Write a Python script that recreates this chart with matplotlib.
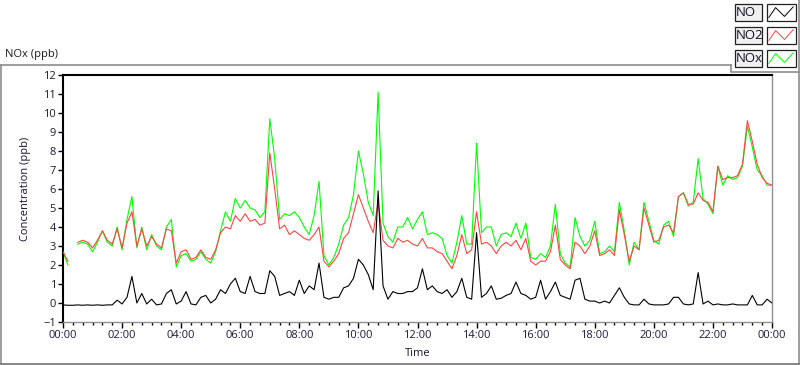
import matplotlib
matplotlib.use('Agg')
import matplotlib.pyplot as plt
import numpy as np
from matplotlib.patches import Rectangle

plt.rcParams['font.family'] = ['Open Sans', 'DejaVu Sans']

# time stamps, one reading every 10 minutes (00:00 .. 24:00)
time_min = np.arange(0, 1441, 10)
hours = time_min / 60.0

nan = np.nan

no2 = [2.7, 2.2, nan, 3.2, 3.3, 3.2, 2.9, 3.3, 3.8, 3.3, 3.1, 3.9,
       2.9, 4.2, 4.8, 3.0, 3.9, 3.0, 3.5, 3.1, 2.9, 3.9, 3.8, 2.1,
       2.7, 2.8, 2.3, 2.4, 2.8, 2.4, 2.3, 2.8, 3.7, 4.0, 3.9, 4.6,
       4.3, 4.7, 4.3, 4.4, 4.1, 4.2, 7.9, 6.0, 3.9, 4.1, 3.6, 3.8,
       3.6, 3.4, 3.3, 3.6, 4.0, 2.2, 1.9, 2.2, 2.6, 3.4, 3.7, 4.7,
       5.7, 5.0, 4.3, 3.7, 5.3, 3.3, 3.0, 2.9, 3.4, 3.2, 3.3, 3.1,
       3.0, 3.4, 2.9, 2.9, 2.7, 2.6, 2.2, 1.8, 2.5, 3.6, 2.6, 2.8,
       4.8, 3.1, 3.2, 3.0, 2.6, 3.0, 3.2, 3.0, 3.3, 2.8, 3.4, 2.2,
       2.0, 2.2, 2.2, 2.7, 4.1, 2.3, 2.0, 1.8, 3.2, 3.0, 2.6, 3.0,
       3.8, 2.5, 2.6, 2.8, 2.5, 4.9, 3.6, 2.2, 3.0, 2.8, 5.0, 4.1,
       3.2, 3.3, 4.0, 4.1, 3.7, 5.6, 5.8, 5.2, 5.2, 5.8, 5.4, 5.3,
       4.8, 7.2, 6.5, 6.6, 6.6, 6.7, 7.3, 9.6, 8.5, 7.3, 6.6, 6.3,
       6.2]

nox = [2.7, 2.0, nan, 3.1, 3.2, 3.1, 2.7, 3.2, 3.8, 3.2, 3.0, 4.0,
       2.8, 4.4, 5.6, 2.9, 4.0, 2.8, 3.6, 3.0, 2.8, 4.0, 4.4, 1.9,
       2.5, 2.6, 2.2, 2.3, 2.7, 2.3, 2.1, 2.7, 3.8, 4.8, 4.3, 5.5,
       5.0, 5.4, 5.0, 4.9, 4.5, 4.8, 9.7, 7.6, 4.4, 4.7, 4.6, 4.8,
       4.5, 4.0, 3.6, 4.6, 6.4, 2.5, 2.0, 2.4, 3.1, 4.1, 4.5, 5.7,
       8.0, 6.8, 5.3, 4.6, 11.1, 4.2, 3.5, 3.2, 4.0, 4.0, 4.5, 3.9,
       4.4, 4.8, 3.6, 3.7, 3.6, 3.4, 2.5, 2.1, 3.2, 4.6, 3.1, 3.1,
       8.4, 3.7, 4.0, 4.0, 3.0, 3.6, 3.7, 3.5, 4.2, 3.4, 4.2, 2.4,
       2.3, 2.6, 2.4, 3.0, 5.2, 2.6, 2.1, 1.9, 4.5, 3.5, 3.0, 3.3,
       4.3, 2.6, 2.7, 3.0, 2.7, 5.3, 3.8, 2.0, 3.2, 2.8, 5.3, 4.3,
       3.3, 3.1, 4.1, 4.3, 3.5, 5.6, 5.8, 5.1, 5.3, 7.6, 5.5, 5.2,
       4.7, 7.2, 6.2, 6.7, 6.5, 6.6, 7.2, 9.3, 8.2, 7.0, 6.7, 6.2,
       6.2]

no = [-0.1, -0.12, -0.12, -0.1, -0.12, -0.1, -0.12, -0.1, -0.12, -0.1, -0.1, 0.15,
      -0.05, 0.3, 1.4, 0.0, 0.5, -0.05, 0.2, -0.1, -0.05, 0.5, 0.7, -0.05,
      0.1, 0.6, -0.05, -0.1, 0.3, 0.4, 0.0, 0.2, 0.7, 0.5, 1.0, 1.3,
      0.6, 0.5, 1.4, 0.6, 0.5, 0.5, 1.7, 1.4, 0.4, 0.5, 0.6, 0.4,
      1.2, 0.5, 0.9, 0.7, 2.1, 0.3, 0.2, 0.3, 0.3, 0.8, 0.9, 1.3,
      2.3, 2.0, 1.5, 0.7, 5.9, 0.9, 0.2, 0.6, 0.5, 0.5, 0.6, 0.6,
      0.8, 1.8, 0.7, 0.9, 0.6, 0.5, 0.7, 0.3, 0.6, 1.3, 0.3, 0.2,
      3.7, 0.3, 0.5, 0.9, 0.2, 0.25, 0.4, 0.5, 1.1, 0.5, 0.4, 0.2,
      0.3, 1.2, 0.2, 0.6, 1.1, 0.4, 0.3, 0.2, 1.2, 1.3, 0.2, 0.1,
      0.1, 0.0, 0.1, 0.0, 0.4, 0.8, 0.3, -0.05, -0.1, -0.1, 0.2, -0.05,
      -0.1, -0.1, -0.1, -0.05, 0.3, 0.3, -0.05, -0.1, -0.05, 1.6, -0.05, 0.1,
      -0.1, -0.05, -0.1, -0.1, -0.05, -0.1, -0.1, -0.1, 0.4, -0.1, -0.1, 0.2,
      0.0]

hour_ticks = list(range(0, 25, 2))
hour_labels = ['00:00', '02:00', '04:00', '06:00', '08:00', '10:00', '12:00',
               '14:00', '16:00', '18:00', '20:00', '22:00', '00:00']
y_ticks = list(range(-1, 13))

series_names = ['NO', 'NO2', 'NOx']
series_colors = ['black', '#ff4444', '#00ff00']

W, H = 800, 365
fig = plt.figure(figsize=(W / 100, H / 100), dpi=100)
fig.patch.set_facecolor('white')

ax = fig.add_axes([63 / W, 43 / H, 709 / W, 247 / H])
ax.plot(hours, nox, color=series_colors[2], lw=0.8, zorder=2)
ax.plot(hours, no2, color=series_colors[1], lw=0.8, zorder=3)
ax.plot(hours, no, color=series_colors[0], lw=0.8, zorder=4)

ax.set_xlim(0, 24)
ax.set_ylim(-1, 12)
ax.set_xticks(hour_ticks)
ax.set_xticklabels(hour_labels)
ax.set_xticks(np.arange(0, 24.01, 1 / 3), minor=True)
ax.set_yticks(y_ticks)
ax.tick_params(axis='both', which='major', labelsize=8, color='black',
               labelcolor='#1a1a3a', width=1)
ax.tick_params(axis='x', which='major', length=4, pad=2)
ax.tick_params(axis='x', which='minor', length=2.2, width=1)
ax.tick_params(axis='y', which='major', length=3.6, pad=1.5)

for side in ['top', 'left']:
    ax.spines[side].set_color('black')
    ax.spines[side].set_linewidth(1.5)
for side in ['bottom', 'right']:
    ax.spines[side].set_color('#909090')
    ax.spines[side].set_linewidth(1)

ax.set_ylabel('Concentration (ppb)', fontsize=8, color='#1a1030')
ax.yaxis.set_label_coords(-0.045, 0.54)
ax.set_xlabel('Time', fontsize=8, color='#1a1030')
ax.xaxis.set_label_coords(0.5, -0.105)

fig.text(5 / W, 1 - 55 / H, 'NOx (ppb)', fontsize=8, va='center', ha='left',
         color='#1a1a1a')

# panel frame and legend drawn in pixel space
ov = fig.add_axes([0, 0, 1, 1], zorder=5)
ov.set_xlim(0, W)
ov.set_ylim(H, 0)
ov.axis('off')

frame_col = '#8c8c8c'
ov.plot([0.5, 731], [65, 65], color=frame_col, lw=1.2)
ov.plot([731, 731, 798.5], [65, 72, 72], color=frame_col, lw=1.2)
ov.plot([798.5, 798.5], [0, 363.5], color=frame_col, lw=1.2)
ov.plot([0.8, 0.8], [65, 363.5], color=frame_col, lw=1.2)
ov.plot([0.5, 798.5], [363.5, 363.5], color='#707070', lw=1.2)

zig_x = np.array([0.05, 0.3, 0.63, 0.95])
zig_y = np.array([0.85, 0.15, 0.78, 0.1])
for i, name in enumerate(series_names):
    top = 4 + i * 23
    ov.add_patch(Rectangle((734.5, top), 27, 16.5, facecolor='#f0f0f0',
                           edgecolor='#202020', lw=0.9))
    ov.text(735.5, top + 8.5, name, fontsize=9.5, va='center', ha='left',
            color='#10102a')
    ov.add_patch(Rectangle((766.5, top), 29, 16.5, facecolor='white',
                           edgecolor='#202020', lw=0.9))
    ov.plot(767.5 + zig_x * 27, top + 1.5 + zig_y * 14, color=series_colors[i],
            lw=0.7)

fig.savefig('out.png', dpi=100)
